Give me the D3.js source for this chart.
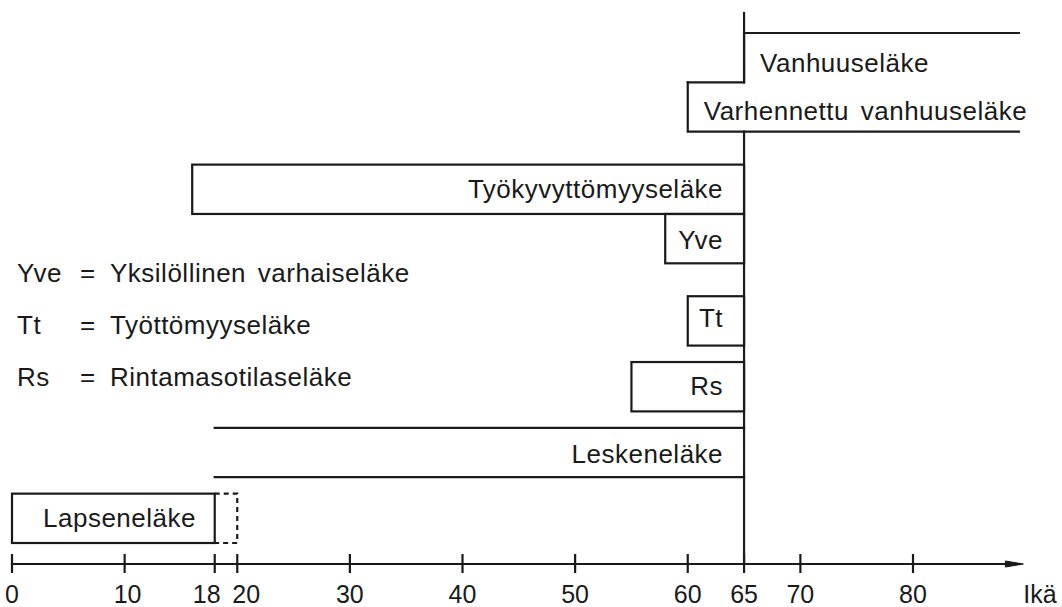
<!DOCTYPE html>
<html>
<head>
<meta charset="utf-8">
<script src="https://cdn.jsdelivr.net/npm/d3@7"></script>
<style>
  html, body { margin: 0; padding: 0; background: #fff; }
  svg { display: block; }
  text { font-family: "Liberation Sans", Arial, Helvetica, sans-serif; fill: #1a1a1a; }
</style>
</head>
<body>
<svg id="chart" width="1062" height="607"></svg>
<script>
// ---------------- DATA ----------------
// Age axis
const tickAges = [0, 10, 18, 20, 30, 40, 50, 60, 65, 70, 80];
const axisLabel = "Ikä";
const retirementAge = 65;
const axisEndAge = 89.8;
const openEndAge = 89.4;

// Pension bands: name, start age, end age, row top / bottom (row units)
const pensionNames = ["Vanhuuseläke", "Varhennettu vanhuuseläke", "Työkyvyttömyyseläke", "Yve", "Tt", "Rs", "Leskeneläke", "Lapseneläke"];
const startAges    = [65, 60, 16, 58, 60, 55, 18, 0];
const endAges      = [openEndAge, openEndAge, 65, 65, 65, 65, 65, 18];
const rowTops      = [2, 5, 10, 13, 18, 22, 26, 30];
const rowBottoms   = [5, 8, 13, 16, 21, 25, 29, 33];
const labelSides   = ["start", "start", "end", "end", "end", "end", "end", "start"];
// Lapseneläke dashed extension
const childExtEnd = 20;

// Legend
const legendAbbr = ["Yve", "Tt", "Rs"];
const legendText = ["Yksilöllinen varhaiseläke", "Työttömyyseläke", "Rintamasotilaseläke"];

// ---------------- LAYOUT ----------------
const svg = d3.select("#chart");
const x = d3.scaleLinear().domain([0, 80]).range([12, 913]);
const y = d3.scaleLinear().domain([0, 33]).range([0.1, 543]);
const axisY = 564;
const lineTopY = 13;
const ink = "#1a1a1a";
const sw = 2.2;
const fs = 26;
const tickLabelShift = { 18: -8, 20: 9, 10: 3 };
const labelDy = [14, 13, 9, 10, 6, 8, 10, 9];

const g = svg.append("g").attr("fill", "none").attr("stroke", ink).attr("stroke-width", sw)
  .attr("stroke-linecap", "square");

const line = d3.line().x(d => x(d[0])).y(d => y(d[1]));

const P = pensionNames.map((n, i) => ({ name: n, s: startAges[i], e: endAges[i], t: rowTops[i], b: rowBottoms[i], side: labelSides[i], dy: labelDy[i] }));

// Vanhuuseläke (open right/bottom) with step to Varhennettu
const v = P[0], vr = P[1];
g.append("path").attr("d", line([[v.e, v.t], [v.s, v.t], [v.s, v.b], [vr.s, v.b]]));
g.append("path").attr("d", line([[vr.s, vr.t], [vr.s, vr.b], [vr.e, vr.b]]));

// Closed rectangles: Työkyvyttömyys, Yve, Tt, Rs, Lapseneläke
[2, 3, 4, 5, 7].forEach(i => {
  const p = P[i];
  g.append("rect")
    .attr("x", x(p.s)).attr("y", y(p.t))
    .attr("width", x(p.e) - x(p.s)).attr("height", y(p.b) - y(p.t))
    .attr("stroke-linecap", "butt");
});

// Leskeneläke: top and bottom lines only
const l = P[6];
g.append("path").attr("d", line([[l.s, l.t], [l.e, l.t]]));
g.append("path").attr("d", line([[l.s, l.b], [l.e, l.b]]));

// Lapseneläke dashed extension
const c = P[7];
g.append("path").attr("d", line([[c.e, c.t], [childExtEnd, c.t], [childExtEnd, c.b], [c.e, c.b]]))
  .attr("stroke-dasharray", "5,4").attr("stroke-linecap", "butt");

// Retirement age vertical line (gap through Varhennettu band)
g.append("line").attr("x1", x(retirementAge)).attr("x2", x(retirementAge))
  .attr("y1", lineTopY).attr("y2", y(vr.t));
g.append("line").attr("x1", x(retirementAge)).attr("x2", x(retirementAge))
  .attr("y1", y(vr.b)).attr("y2", axisY);

// Axis
const xEnd = x(axisEndAge);
g.append("line").attr("x1", x(0)).attr("x2", xEnd - 4).attr("y1", axisY).attr("y2", axisY);
svg.append("path")
  .attr("d", `M${xEnd - 18},${axisY - 3}L${xEnd},${axisY}L${xEnd - 18},${axisY + 3}Z`)
  .attr("fill", ink).attr("stroke", ink).attr("stroke-width", 1);
g.selectAll(".tick").data(tickAges).enter().append("line")
  .attr("x1", d => x(d)).attr("x2", d => x(d))
  .attr("y1", axisY - 10).attr("y2", axisY + 9).attr("stroke-linecap", "butt");
svg.selectAll(".ticklabel").data(tickAges).enter().append("text")
  .attr("x", d => x(d) + (tickLabelShift[d] || 0)).attr("y", 603).attr("text-anchor", "middle")
  .attr("font-size", 25).text(d => d);
svg.append("text").attr("x", xEnd).attr("y", 603).attr("font-size", 25).text(axisLabel);

// Labels
const labelGap = { start: 16, end: 21 };
P.forEach(p => {
  const mid = (y(p.t) + y(p.b)) / 2;
  let tx, anchor;
  if (p.side === "end") { tx = x(p.e) - labelGap.end; anchor = "end"; }
  else { tx = x(p.s) + (p.s === 0 ? 31 : labelGap.start); anchor = "start"; }
  svg.append("text").attr("x", tx).attr("y", mid + p.dy)
    .attr("text-anchor", anchor).attr("font-size", fs)
    .attr("letter-spacing", "0.5px").attr("word-spacing", "4px")
    .text(p.name);
});

// Legend
legendAbbr.forEach((a, i) => {
  const by = 282 + i * 52;
  svg.append("text").attr("x", 17).attr("y", by).attr("font-size", fs).attr("letter-spacing", "0.5px").text(a);
  svg.append("text").attr("x", 80).attr("y", by).attr("font-size", fs).text("=");
  svg.append("text").attr("x", 110).attr("y", by).attr("font-size", fs).attr("letter-spacing", "0.5px").attr("word-spacing", "4px").text(legendText[i]);
});
</script>
</body>
</html>
